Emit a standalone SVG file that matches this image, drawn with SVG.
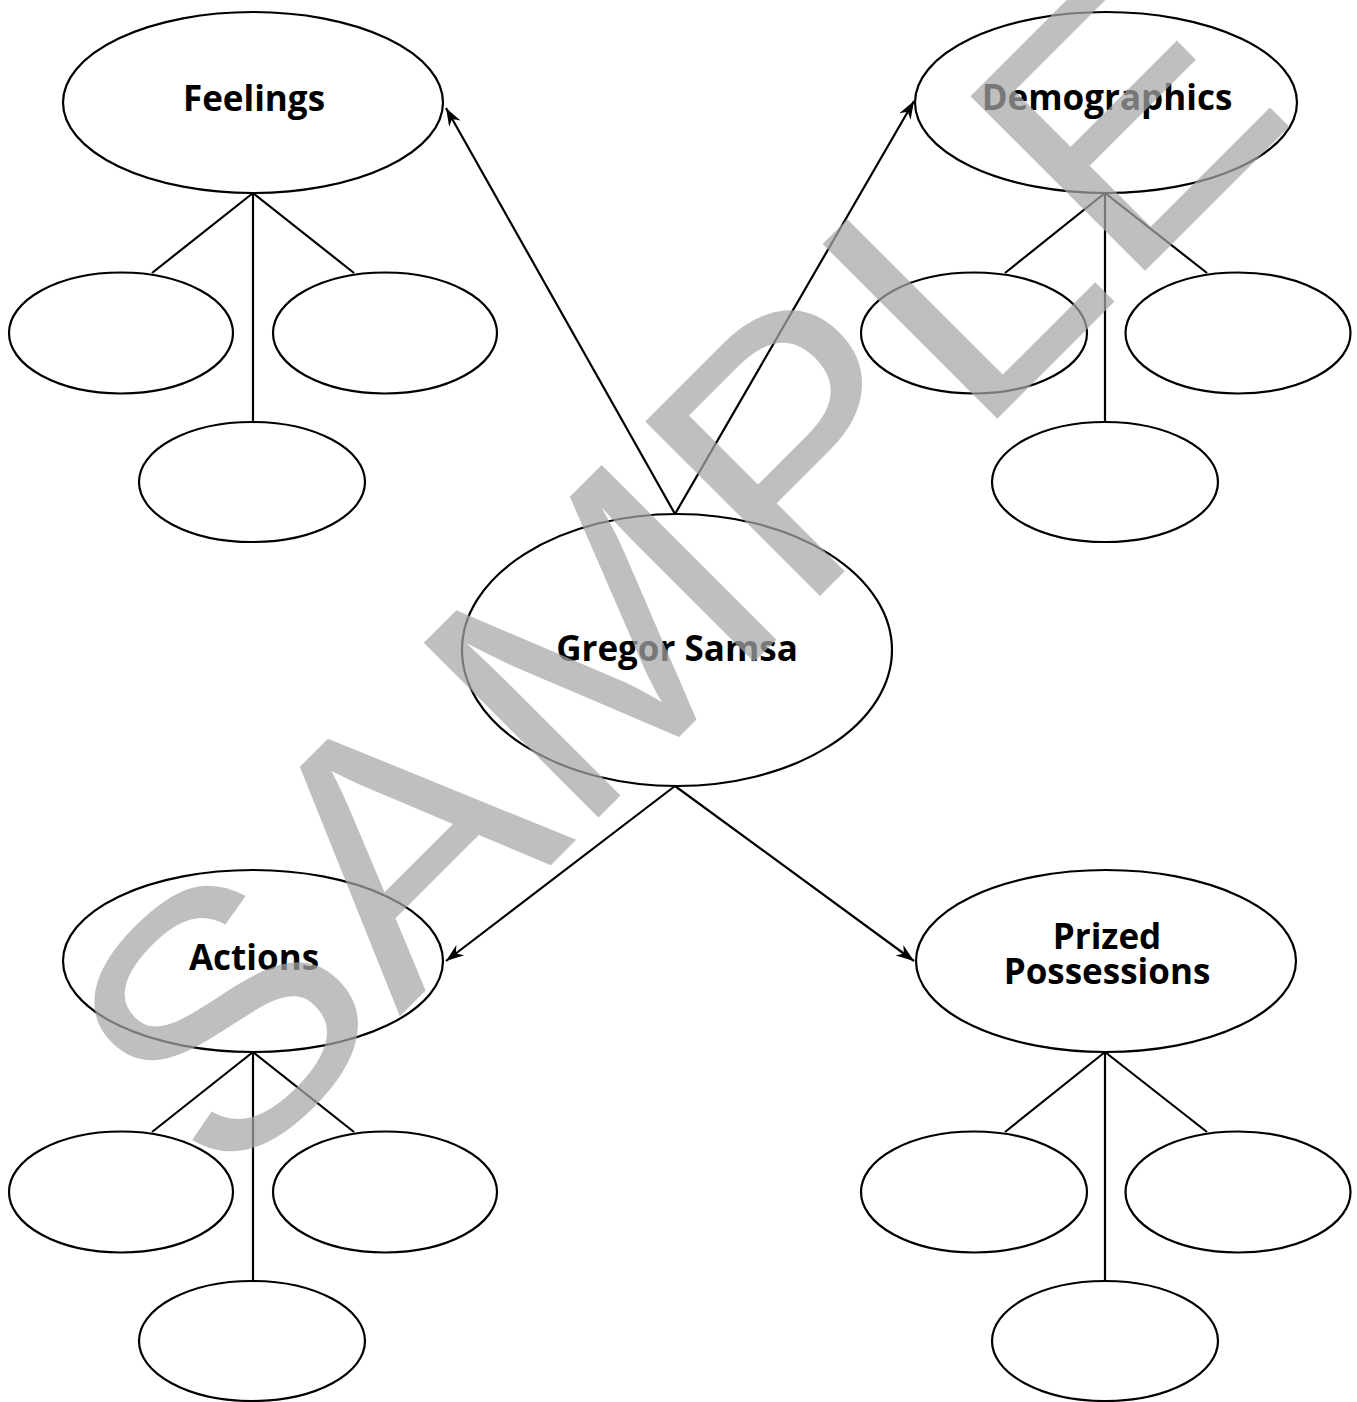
<svg xmlns="http://www.w3.org/2000/svg" width="1357" height="1402" viewBox="0 0 1357 1402">
<style>
.n{fill:#fff;stroke:#000;stroke-width:2.2}
.c{fill:none;stroke:#000;stroke-width:2.2}
.t{font-family:"Open Sans","Noto Sans",sans-serif;font-weight:700;font-size:35px;fill:#000;text-anchor:middle}
.wm{font-family:"Liberation Sans",Arial,sans-serif;font-size:376px;fill:#a6a6a6;fill-opacity:0.72}
</style>
<defs>
<marker id="ah" markerUnits="userSpaceOnUse" markerWidth="22" markerHeight="16" viewBox="-19 -8 20 16" refX="0" refY="0" orient="auto">
<path d="M0,0 L-18,-6.5 L-12.5,0 L-18,6.5 Z" fill="#000"/>
</marker>
</defs>
<rect width="1357" height="1402" fill="#fff"/>
<g id="connectors">
<line class="c" x1="675" y1="514" x2="446" y2="108" marker-end="url(#ah)"/>
<line class="c" x1="675" y1="514" x2="914" y2="101" marker-end="url(#ah)"/>
<line class="c" x1="675" y1="786" x2="446" y2="961" marker-end="url(#ah)"/>
<line class="c" x1="675" y1="786" x2="914" y2="961" marker-end="url(#ah)"/>
<line class="c" x1="253" y1="193" x2="152" y2="273"/>
<line class="c" x1="253" y1="193" x2="253" y2="422"/>
<line class="c" x1="253" y1="193" x2="354" y2="273"/>
<line class="c" x1="1105" y1="193" x2="1005" y2="273"/>
<line class="c" x1="1105" y1="193" x2="1105" y2="422"/>
<line class="c" x1="1105" y1="193" x2="1207" y2="273"/>
<line class="c" x1="253" y1="1052" x2="152" y2="1132"/>
<line class="c" x1="253" y1="1052" x2="253" y2="1281"/>
<line class="c" x1="253" y1="1052" x2="354" y2="1132"/>
<line class="c" x1="1105" y1="1052" x2="1005" y2="1132"/>
<line class="c" x1="1105" y1="1052" x2="1105" y2="1281"/>
<line class="c" x1="1105" y1="1052" x2="1207" y2="1132"/>
</g>
<g id="feelings"><ellipse class="n" cx="253" cy="102.5" rx="190" ry="90.5"/><text class="t" x="254" y="111">Feelings</text></g>
<g id="feelings-1"><ellipse class="n" cx="121" cy="333" rx="112" ry="60.5"/></g>
<g id="feelings-2"><ellipse class="n" cx="385" cy="333" rx="112" ry="60.5"/></g>
<g id="feelings-3"><ellipse class="n" cx="252" cy="482" rx="113" ry="60"/></g>
<g id="demographics"><ellipse class="n" cx="1106" cy="102.5" rx="191" ry="90.5"/><text class="t" x="1107" y="110">Demographics</text></g>
<g id="demographics-1"><ellipse class="n" cx="974" cy="333" rx="113" ry="60.5"/></g>
<g id="demographics-2"><ellipse class="n" cx="1238" cy="333" rx="112.5" ry="60.5"/></g>
<g id="demographics-3"><ellipse class="n" cx="1105" cy="482" rx="113" ry="60"/></g>
<g id="gregor"><ellipse class="n" cx="677" cy="650" rx="215" ry="136"/><text class="t" x="677" y="661">Gregor Samsa</text></g>
<g id="actions"><ellipse class="n" cx="253" cy="961" rx="190" ry="91"/><text class="t" x="254" y="970">Actions</text></g>
<g id="actions-1"><ellipse class="n" cx="121" cy="1192" rx="112" ry="60.5"/></g>
<g id="actions-2"><ellipse class="n" cx="385" cy="1192" rx="112" ry="60.5"/></g>
<g id="actions-3"><ellipse class="n" cx="252" cy="1341" rx="113" ry="60"/></g>
<g id="prized"><ellipse class="n" cx="1106" cy="961" rx="190" ry="91"/><text class="t" x="1107" y="950"><tspan x="1107" y="949">Prized</tspan><tspan x="1107" y="984">Possessions</tspan></text></g>
<g id="prized-1"><ellipse class="n" cx="974" cy="1192" rx="113" ry="60.5"/></g>
<g id="prized-2"><ellipse class="n" cx="1238" cy="1192" rx="112.5" ry="60.5"/></g>
<g id="prized-3"><ellipse class="n" cx="1105" cy="1341" rx="113" ry="60"/></g>
<g id="watermark"><text class="wm" transform="translate(222,1194) rotate(-45) scale(1,0.955)">SAMPLE</text></g>
</svg>
